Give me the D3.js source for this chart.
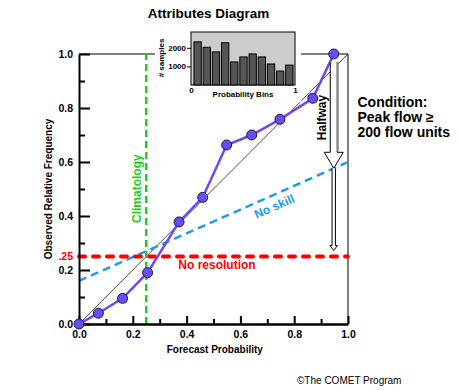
<!DOCTYPE html>
<html>
<head>
<meta charset="utf-8">
<script src="https://cdn.jsdelivr.net/npm/d3@7"></script>
<style>
body { margin: 0; background: #fff; }
text { font-family: "Liberation Sans", Arial, sans-serif; font-weight: bold; }
</style>
</head>
<body>
<svg id="chart" width="458" height="390"></svg>
<script>
// reliability curve (forecast prob / observed freq)
const forecast = [0, 0.072, 0.162, 0.255, 0.372, 0.46, 0.549, 0.642, 0.747, 0.869, 0.947];
const observed = [0, 0.04, 0.095, 0.19, 0.378, 0.469, 0.663, 0.70, 0.758, 0.836, 1.0];

// inset histogram, samples per probability bin
const binCounts = [2320, 2030, 1780, 2270, 1240, 1510, 1670, 1510, 1130, 750, 1070];
const binTicks = [1000, 2000];
const binEnds = [0, 1];

const climatology = 0.25;
const noSkill = [0.16, 0.60]; // value at forecast 0 and 1
const majorTicks = [0, 0.2, 0.4, 0.6, 0.8, 1.0];
const minorTicks = [0.1, 0.3, 0.5, 0.7, 0.9];
const conditionLines = ["Condition:", "Peak flow \u2265", "200 flow units"];

const svg = d3.select('#chart');
const x = d3.scaleLinear().domain([0, 1]).range([79, 348]);
const y = d3.scaleLinear().domain([0, 1]).range([324, 54]);

//title
svg.append('text')
  .attr('x', 208.5).attr('y', 18)
  .attr('text-anchor', 'middle')
  .style('font-size', '13.5px')
  .text('Attributes Diagram');

// frame top + right
svg.append('path')
  .attr('d', `M${x(0)},${y(1)}H${x(1)}V${y(0)}`)
  .attr('fill', 'none').attr('stroke', '#000').attr('stroke-width', 1);

// perfect reliability diagonal
svg.append('line')
  .attr('x1', x(0)).attr('y1', y(0)).attr('x2', x(1)).attr('y2', y(1))
  .attr('stroke', '#000').attr('stroke-width', 0.7);

// no skill
svg.append('line')
  .attr('x1', x(0)).attr('y1', y(noSkill[0])).attr('x2', x(1)).attr('y2', y(noSkill[1]))
  .attr('stroke', '#1e9cf0').attr('stroke-width', 2.5).attr('stroke-dasharray', '8,5');

// no resolution
svg.append('line')
  .attr('x1', x(0)).attr('y1', y(climatology)).attr('x2', x(1)).attr('y2', y(climatology))
  .attr('stroke', '#f00').attr('stroke-width', 4)
  .attr('stroke-linecap', 'round').attr('stroke-dasharray', '6,8');

// climatology
svg.append('line')
  .attr('x1', x(climatology)).attr('y1', y(0)).attr('x2', x(climatology)).attr('y2', y(1))
  .attr('stroke', '#22cc22').attr('stroke-width', 2.5).attr('stroke-dasharray', '7,4');

// axes
function styleAxis(g, w) {
  g.select('.domain').attr('stroke-width', w);
  g.selectAll('.tick line').attr('stroke-width', 2);
  g.selectAll('text').style('font-size', '10.5px').attr('fill', '#000');
  g.attr('font-family', null);
}

svg.append('g')
  .attr('transform', `translate(${x(0)},0)`)
  .call(d3.axisLeft(y).tickValues(majorTicks).tickFormat(d3.format('.1f'))
    .tickSize(-11).tickSizeOuter(0).tickPadding(6))
  .call(g => styleAxis(g, 2));
svg.append('g')
  .attr('transform', `translate(${x(0)},0)`)
  .call(d3.axisLeft(y).tickValues(minorTicks).tickFormat('').tickSize(-6).tickSizeOuter(0))
  .call(g => { g.select('.domain').remove(); g.selectAll('line').attr('stroke-width', 2); });

svg.append('g')
  .attr('transform', `translate(0,${y(0)})`)
  .call(d3.axisBottom(x).tickValues(majorTicks).tickFormat(d3.format('.1f'))
    .tickSize(-8).tickSizeOuter(0).tickPadding(7))
  .call(g => styleAxis(g, 2.5));
svg.append('g')
  .attr('transform', `translate(0,${y(0)})`)
  .call(d3.axisBottom(x).tickValues(minorTicks).tickFormat('').tickSize(-5).tickSizeOuter(0))
  .call(g => { g.select('.domain').remove(); g.selectAll('line').attr('stroke-width', 2); });

svg.append('text')
  .attr('x', x(0) - 6).attr('y', y(climatology)).attr('dy', '0.32em')
  .attr('text-anchor', 'end').attr('fill', '#f00')
  .style('font-size', '10.5px')
  .text('.25');

// axis titles
svg.append('text')
  .attr('transform', 'translate(52,189) rotate(-90)')
  .attr('text-anchor', 'middle')
  .style('font-size', '10px')
  .text('Observed Relative Frequency');
svg.append('text')
  .attr('x', 214.8).attr('y', 353)
  .attr('text-anchor', 'middle')
  .style('font-size', '10px')
  .text('Forecast Probability');

// reliability curve
const pts = forecast.map((f, i) => [f, observed[i]]);
svg.append('path')
  .datum(pts)
  .attr('d', d3.line().x(d => x(d[0])).y(d => y(d[1])))
  .attr('fill', 'none').attr('stroke', '#7446ee').attr('stroke-width', 2.5);
svg.append('g').selectAll('circle')
  .data(pts)
  .join('circle')
  .attr('cx', d => x(d[0])).attr('cy', d => y(d[1])).attr('r', 5)
  .attr('fill', '#6a4df0').attr('stroke', '#1a1a5a').attr('stroke-width', 1);

// line labels
svg.append('text')
  .attr('transform', `translate(${x(climatology) - 5},223) rotate(-90)`)
  .attr('fill', '#22cc22')
  .style('font-size', '12px')
  .text('Climatology');

svg.append('text')
  .attr('x', 217).attr('y', 268.5)
  .attr('text-anchor', 'middle').attr('fill', '#f00')
  .style('font-size', '12px')
  .text('No resolution');

const nsX = 0.71;
const nsY = noSkill[0] + (noSkill[1] - noSkill[0]) * nsX;
const nsAngle = Math.atan2(y(noSkill[1]) - y(noSkill[0]), x(1) - x(0)) * 180 / Math.PI;
svg.append('text')
  .attr('transform', `translate(${x(nsX)},${y(nsY)}) rotate(${nsAngle})`)
  .attr('y', 15)
  .attr('text-anchor', 'middle').attr('fill', '#1e9cf0')
  .style('font-size', '12px')
  .text('No skill');

// halfway arrows
const last = forecast[forecast.length - 1];
const ax = x(last);
const ySkill = y(noSkill[0] + (noSkill[1] - noSkill[0]) * last);
const arrowTop = y(0.97);
svg.append('path')
  .attr('d', `M${ax - 3.5},${arrowTop}V${ySkill - 16}H${ax - 9.5}L${ax},${ySkill}L${ax + 9.5},${ySkill - 16}H${ax + 3.5}V${arrowTop}`)
  .attr('fill', '#fff').attr('stroke', '#000').attr('stroke-width', 1);
svg.append('line')
  .attr('x1', ax + 4).attr('y1', arrowTop).attr('x2', ax + 4).attr('y2', ySkill - 17)
  .attr('stroke', '#888').attr('stroke-width', 2);
const yRes = y(climatology) - 6;
svg.append('path')
  .attr('d', `M${ax - 1.7},${ySkill}V${yRes - 5}H${ax - 3.7}L${ax},${yRes}L${ax + 3.7},${yRes - 5}H${ax + 1.7}V${ySkill}`)
  .attr('fill', '#fff').attr('stroke', '#000').attr('stroke-width', 1);
svg.append('text')
  .attr('transform', 'translate(326,117.5) rotate(-90)')
  .attr('text-anchor', 'middle')
  .style('font-size', '12px')
  .text('Halfway');

// condition note
svg.append('g').selectAll('text')
  .data(conditionLines)
  .join('text')
  .attr('x', 357.5).attr('y', (d, i) => 106.5 + i * 15)
  .style('font-size', '14px')
  .text(d => d);

// inset histogram
const inset = svg.append('g');
inset.append('rect')
  .attr('x', 155).attr('y', 22).attr('width', 146).attr('height', 80)
  .attr('fill', '#fff');
const xBin = d3.scaleLinear().domain([0, 1]).range([191, 295]);
const yBin = d3.scaleLinear().domain([0, 2850]).range([85, 32]);
const band = d3.scaleBand().domain(binCounts.map((d, i) => i))
  .range([193.5, 293.5]).paddingInner(0.2).paddingOuter(0.05);
inset.append('rect')
  .attr('x', xBin(0)).attr('y', yBin(2850))
  .attr('width', xBin(1) - xBin(0)).attr('height', yBin(0) - yBin(2850))
  .attr('fill', '#cccccc').attr('stroke', '#000').attr('stroke-width', 1);
inset.selectAll('.bar')
  .data(binCounts)
  .join('rect')
  .attr('class', 'bar')
  .attr('x', (d, i) => band(i)).attr('width', band.bandwidth())
  .attr('y', d => yBin(d)).attr('height', d => yBin(0) - yBin(d))
  .attr('fill', '#555').attr('stroke', '#000').attr('stroke-width', 1);
inset.append('g')
  .attr('transform', `translate(${xBin(0)},0)`)
  .call(d3.axisLeft(yBin).tickValues(binTicks).tickFormat(d3.format('d')).tickSize(4).tickPadding(1))
  .call(g => {
    g.select('.domain').remove();
    g.attr('font-family', null);
    g.selectAll('text').style('font-size', '8px').attr('fill', '#000');
  });
inset.append('g')
  .attr('transform', `translate(0,${yBin(0)})`)
  .call(d3.axisBottom(xBin).tickValues(binEnds).tickFormat(d3.format('d')).tickSize(0).tickPadding(2))
  .call(g => {
    g.select('.domain').remove();
    g.attr('font-family', null);
    g.selectAll('text').style('font-size', '8px').attr('fill', '#000');
  });
inset.append('text')
  .attr('x', 243).attr('y', 97)
  .attr('text-anchor', 'middle')
  .style('font-size', '8px')
  .text('Probability Bins');
inset.append('text')
  .attr('transform', 'translate(164,58) rotate(-90)')
  .attr('text-anchor', 'middle')
  .style('font-size', '8px')
  .text('# samples');

svg.append('text')
  .attr('x', 297).attr('y', 384)
  .style('font-size', '10px').style('font-weight', 'normal')
  .text('\u00a9The COMET Program');
</script>
</body>
</html>
